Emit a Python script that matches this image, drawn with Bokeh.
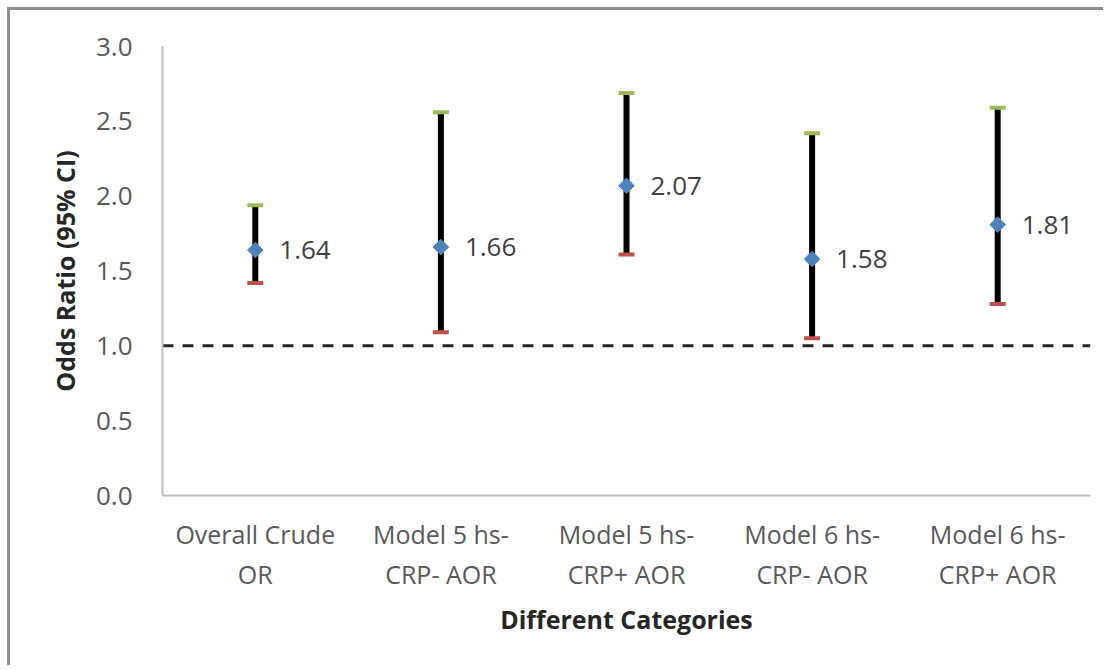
import numpy as np
from bokeh.plotting import figure
from bokeh.models import Range1d, FixedTicker, PrintfTickFormatter, Span, ColumnDataSource, LinearAxis
from bokeh.core.properties import value
from bokeh.embed import file_html
from bokeh.resources import INLINE

# ---- data ----
categories = ["Overall Crude OR", "Model 5 hs-CRP- AOR", "Model 5 hs-CRP+ AOR",
              "Model 6 hs-CRP- AOR", "Model 6 hs-CRP+ AOR"]
tick_line1 = ["Overall Crude", "Model 5 hs-", "Model 5 hs-", "Model 6 hs-", "Model 6 hs-"]
tick_line2 = ["OR", "CRP- AOR", "CRP+ AOR", "CRP- AOR", "CRP+ AOR"]
odds_ratio = [1.64, 1.66, 2.07, 1.58, 1.81]
ci_lower = [1.42, 1.09, 1.61, 1.05, 1.28]
ci_upper = [1.94, 2.56, 2.69, 2.42, 2.59]
y_ticks = [0.0, 0.5, 1.0, 1.5, 2.0, 2.5, 3.0]
reference_line = 1.0

FONT = "Open Sans"

# category slot centres (each category occupies one unit of the x scale)
x_pos = [i + 0.5 for i in range(len(categories))]

src = ColumnDataSource(dict(
    x=x_pos, or_=odds_ratio, lo=ci_lower, hi=ci_upper,
    lab=["%.2f" % v for v in odds_ratio],
))

p = figure(x_range=Range1d(0, len(categories)), y_range=Range1d(0, 3),
           width=1096, height=658, output_backend="svg", toolbar_location=None,
           min_border_left=152, min_border_right=16, min_border_top=36, min_border_bottom=173)
p.styles = {"margin-left": "7px", "margin-top": "7px",
            "border-top": "3px solid #8c8c8c", "border-left": "3px solid #8c8c8c"}
p.outline_line_color = None
p.xgrid.grid_line_color = None
p.ygrid.grid_line_color = None
p.background_fill_color = "white"
p.border_fill_color = "white"

# reference line at OR = 1
span = Span(location=reference_line, dimension="width", line_color="#262626",
            line_width=3, line_dash="11 9", level="underlay")
p.add_layout(span)

# CI bars
p.segment(x0="x", y0="lo", x1="x", y1="hi", source=src, line_color="black", line_width=6)
p.scatter(x="x", y="hi", source=src, marker="dash", size=16, line_width=4,
          line_color="#9BBB59", fill_color="#9BBB59")
p.scatter(x="x", y="lo", source=src, marker="dash", size=16, line_width=4,
          line_color="#C0504D", fill_color="#C0504D")
# point estimates
p.scatter(x="x", y="or_", source=src, marker="square", angle=np.pi / 4, size=11,
          fill_color="#4F81BD", line_color="#4F81BD")
p.text(x="x", y="or_", text="lab", source=src, x_offset=24, text_align="left",
       text_baseline="middle", text_font=value(FONT), text_font_size="26px",
       text_color="#404040")

# second line of category labels (outer axis)
xaxis2 = LinearAxis()
p.add_layout(xaxis2, "below")

for ax in (p.xaxis[0], p.yaxis[0], xaxis2):
    ax.axis_line_color = "#BFBFBF"
    ax.axis_line_width = 2
    ax.major_tick_line_color = None
    ax.minor_tick_line_color = None
    ax.major_label_text_font = FONT
    ax.major_label_text_color = "#595959"
    ax.axis_label_text_font = FONT
    ax.axis_label_text_font_style = "bold"
    ax.axis_label_text_color = "#262626"
    ax.axis_label_text_font_size = "25px"

p.yaxis.ticker = FixedTicker(ticks=y_ticks)
p.yaxis.formatter = PrintfTickFormatter(format="%.1f")
p.yaxis.major_label_text_font_size = "26px"
p.yaxis.major_label_standoff = 24
p.yaxis.axis_label = "Odds Ratio (95% CI)"
p.yaxis.axis_label_standoff = 11

xaxis1 = p.xaxis[0]
xaxis1.ticker = FixedTicker(ticks=x_pos)
xaxis1.major_label_overrides = {x: t for x, t in zip(x_pos, tick_line1)}
xaxis1.major_label_text_font_size = "25px"
xaxis1.major_label_standoff = 15

xaxis2.ticker = FixedTicker(ticks=x_pos)
xaxis2.axis_line_color = None
xaxis2.major_label_overrides = {x: t for x, t in zip(x_pos, tick_line2)}
xaxis2.major_label_text_font_size = "25px"
xaxis2.major_label_standoff = -3
xaxis2.axis_label = "Different Categories"
xaxis2.axis_label_standoff = 8

open("out.html", "w").write(file_html(p, INLINE))
